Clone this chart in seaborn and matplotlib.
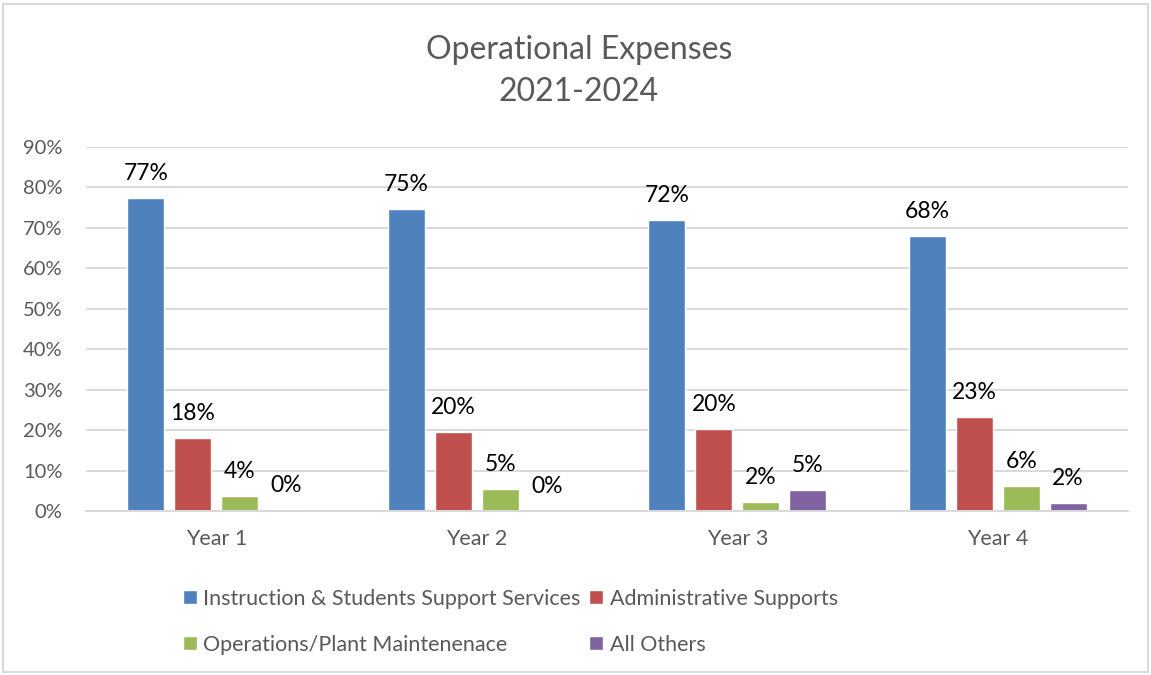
import matplotlib
matplotlib.use('Agg')
import matplotlib.pyplot as plt
import seaborn as sns
import pandas as pd
from matplotlib.patches import Patch, Rectangle

# ---------------------------------------------------------------
# data (share of operational expenses, %)
# ---------------------------------------------------------------
years = ['Year 1', 'Year 2', 'Year 3', 'Year 4']
series = ['Instruction & Students Support Services', 'Administrative Supports',
          'Operations/Plant Maintenenace', 'All Others']
instruction = [77.3, 74.6, 71.9, 68.1]
administrative = [18.1, 19.6, 20.2, 23.2]
operations = [3.8, 5.4, 2.3, 6.1]
all_others = [0.3, 0.0, 5.1, 2.1]
colors = ['#4F81BD', '#C0504D', '#9BBB59', '#8064A2']

df = pd.DataFrame({
    'year': years * 4,
    'series': [s for s in series for _ in years],
    'value': instruction + administrative + operations + all_others,
})

sns.set_style('white')
plt.rcParams['font.family'] = ['Lato', 'DejaVu Sans']

grey = '#595959'
grid = '#D9D9D9'

fig = plt.figure(figsize=(11.51, 6.75), dpi=100)
ax = fig.add_axes([86 / 1151, 1 - 511 / 675, (1128 - 86) / 1151, (511 - 147) / 675])

sns.barplot(data=df, x='year', y='value', hue='series', palette=colors,
            saturation=1, width=0.72, gap=0.21, legend=False, ax=ax)

for cont in ax.containers:
    ax.bar_label(cont, fmt=lambda v: f'{v:.0f}%', padding=10, fontsize=16.5, color='black')

ax.set_ylim(0, 90)
ax.set_yticks(range(0, 100, 10))
ax.set_yticklabels([f'{t}%' for t in range(0, 100, 10)])
ax.set_xlabel('')
ax.set_ylabel('')
ax.yaxis.grid(True, color=grid, lw=1.4)
ax.set_axisbelow(True)
for side in ['top', 'right', 'left']:
    ax.spines[side].set_visible(False)
ax.spines['bottom'].set_color(grid)
ax.spines['bottom'].set_linewidth(1.4)
ax.tick_params(axis='y', length=0, pad=17, labelsize=14.5, labelcolor=grey)
ax.tick_params(axis='x', length=0, pad=13, labelsize=15.5, labelcolor=grey)

fig.suptitle('Operational Expenses\n2021-2024', x=0.503, y=1 - 71 / 675, va='center',
             fontsize=23, color=grey, fontweight='normal', linespacing=1.5)

# legend is filled row by row, like the original
handles = [Patch(facecolor=c, label=s) for c, s in zip(colors, series)]
order = [0, 2, 1, 3]
fig.legend(handles=[handles[i] for i in order], ncol=2, loc='upper left',
           bbox_to_anchor=(172 / 1151, 1 - 578 / 675), frameon=False,
           fontsize=15.5, labelcolor=grey, handlelength=0.65, handleheight=0.65,
           handletextpad=0.3, columnspacing=0.4, labelspacing=1.2, borderpad=0)

fig.add_artist(Rectangle((0.003, 0.004), 0.994, 0.99, transform=fig.transFigure,
                         fill=False, edgecolor=grid, lw=1.5))

fig.savefig('out.png', dpi=100)
